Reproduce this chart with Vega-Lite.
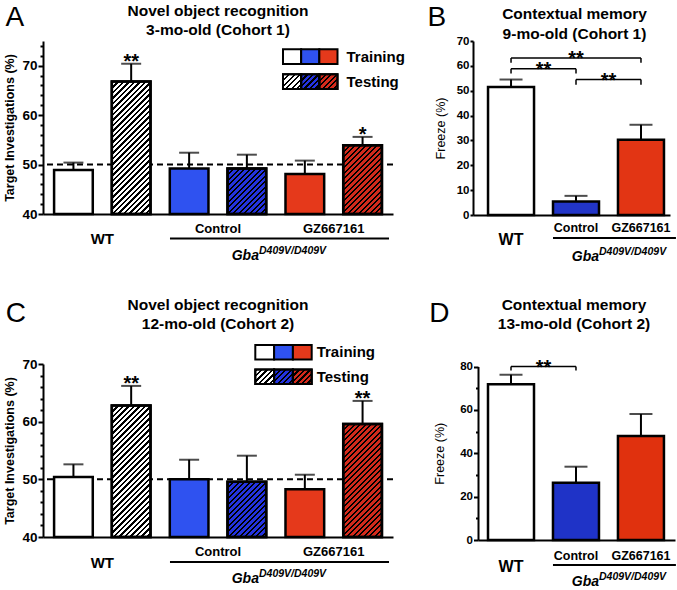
{
"$schema": "https://vega.github.io/schema/vega-lite/v6.json",
"padding": {"left": 3, "top": 3, "right": 0, "bottom": 0},
"params": [{"name": "hatch", "value": [
{"offset":0,"color":"#000"},{"offset":0.01,"color":"#000"},{"offset":0.01,"color":"#0000"},{"offset":0.025,"color":"#0000"},
{"offset":0.025,"color":"#000"},{"offset":0.035,"color":"#000"},{"offset":0.035,"color":"#0000"},{"offset":0.05,"color":"#0000"},
{"offset":0.05,"color":"#000"},{"offset":0.06,"color":"#000"},{"offset":0.06,"color":"#0000"},{"offset":0.075,"color":"#0000"},
{"offset":0.075,"color":"#000"},{"offset":0.085,"color":"#000"},{"offset":0.085,"color":"#0000"},{"offset":0.1,"color":"#0000"},
{"offset":0.1,"color":"#000"},{"offset":0.11,"color":"#000"},{"offset":0.11,"color":"#0000"},{"offset":0.125,"color":"#0000"},
{"offset":0.125,"color":"#000"},{"offset":0.135,"color":"#000"},{"offset":0.135,"color":"#0000"},{"offset":0.15,"color":"#0000"},
{"offset":0.15,"color":"#000"},{"offset":0.16,"color":"#000"},{"offset":0.16,"color":"#0000"},{"offset":0.175,"color":"#0000"},
{"offset":0.175,"color":"#000"},{"offset":0.185,"color":"#000"},{"offset":0.185,"color":"#0000"},{"offset":0.2,"color":"#0000"},
{"offset":0.2,"color":"#000"},{"offset":0.21,"color":"#000"},{"offset":0.21,"color":"#0000"},{"offset":0.225,"color":"#0000"},
{"offset":0.225,"color":"#000"},{"offset":0.235,"color":"#000"},{"offset":0.235,"color":"#0000"},{"offset":0.25,"color":"#0000"},
{"offset":0.25,"color":"#000"},{"offset":0.26,"color":"#000"},{"offset":0.26,"color":"#0000"},{"offset":0.275,"color":"#0000"},
{"offset":0.275,"color":"#000"},{"offset":0.285,"color":"#000"},{"offset":0.285,"color":"#0000"},{"offset":0.3,"color":"#0000"},
{"offset":0.3,"color":"#000"},{"offset":0.31,"color":"#000"},{"offset":0.31,"color":"#0000"},{"offset":0.325,"color":"#0000"},
{"offset":0.325,"color":"#000"},{"offset":0.335,"color":"#000"},{"offset":0.335,"color":"#0000"},{"offset":0.35,"color":"#0000"},
{"offset":0.35,"color":"#000"},{"offset":0.36,"color":"#000"},{"offset":0.36,"color":"#0000"},{"offset":0.375,"color":"#0000"},
{"offset":0.375,"color":"#000"},{"offset":0.385,"color":"#000"},{"offset":0.385,"color":"#0000"},{"offset":0.4,"color":"#0000"},
{"offset":0.4,"color":"#000"},{"offset":0.41,"color":"#000"},{"offset":0.41,"color":"#0000"},{"offset":0.425,"color":"#0000"},
{"offset":0.425,"color":"#000"},{"offset":0.435,"color":"#000"},{"offset":0.435,"color":"#0000"},{"offset":0.45,"color":"#0000"},
{"offset":0.45,"color":"#000"},{"offset":0.46,"color":"#000"},{"offset":0.46,"color":"#0000"},{"offset":0.475,"color":"#0000"},
{"offset":0.475,"color":"#000"},{"offset":0.485,"color":"#000"},{"offset":0.485,"color":"#0000"},{"offset":0.5,"color":"#0000"},
{"offset":0.5,"color":"#000"},{"offset":0.51,"color":"#000"},{"offset":0.51,"color":"#0000"},{"offset":0.525,"color":"#0000"},
{"offset":0.525,"color":"#000"},{"offset":0.535,"color":"#000"},{"offset":0.535,"color":"#0000"},{"offset":0.55,"color":"#0000"},
{"offset":0.55,"color":"#000"},{"offset":0.56,"color":"#000"},{"offset":0.56,"color":"#0000"},{"offset":0.575,"color":"#0000"},
{"offset":0.575,"color":"#000"},{"offset":0.585,"color":"#000"},{"offset":0.585,"color":"#0000"},{"offset":0.6,"color":"#0000"},
{"offset":0.6,"color":"#000"},{"offset":0.61,"color":"#000"},{"offset":0.61,"color":"#0000"},{"offset":0.625,"color":"#0000"},
{"offset":0.625,"color":"#000"},{"offset":0.635,"color":"#000"},{"offset":0.635,"color":"#0000"},{"offset":0.65,"color":"#0000"},
{"offset":0.65,"color":"#000"},{"offset":0.66,"color":"#000"},{"offset":0.66,"color":"#0000"},{"offset":0.675,"color":"#0000"},
{"offset":0.675,"color":"#000"},{"offset":0.685,"color":"#000"},{"offset":0.685,"color":"#0000"},{"offset":0.7,"color":"#0000"},
{"offset":0.7,"color":"#000"},{"offset":0.71,"color":"#000"},{"offset":0.71,"color":"#0000"},{"offset":0.725,"color":"#0000"},
{"offset":0.725,"color":"#000"},{"offset":0.735,"color":"#000"},{"offset":0.735,"color":"#0000"},{"offset":0.75,"color":"#0000"},
{"offset":0.75,"color":"#000"},{"offset":0.76,"color":"#000"},{"offset":0.76,"color":"#0000"},{"offset":0.775,"color":"#0000"},
{"offset":0.775,"color":"#000"},{"offset":0.785,"color":"#000"},{"offset":0.785,"color":"#0000"},{"offset":0.8,"color":"#0000"},
{"offset":0.8,"color":"#000"},{"offset":0.81,"color":"#000"},{"offset":0.81,"color":"#0000"},{"offset":0.825,"color":"#0000"},
{"offset":0.825,"color":"#000"},{"offset":0.835,"color":"#000"},{"offset":0.835,"color":"#0000"},{"offset":0.85,"color":"#0000"},
{"offset":0.85,"color":"#000"},{"offset":0.86,"color":"#000"},{"offset":0.86,"color":"#0000"},{"offset":0.875,"color":"#0000"},
{"offset":0.875,"color":"#000"},{"offset":0.885,"color":"#000"},{"offset":0.885,"color":"#0000"},{"offset":0.9,"color":"#0000"},
{"offset":0.9,"color":"#000"},{"offset":0.91,"color":"#000"},{"offset":0.91,"color":"#0000"},{"offset":0.925,"color":"#0000"},
{"offset":0.925,"color":"#000"},{"offset":0.935,"color":"#000"},{"offset":0.935,"color":"#0000"},{"offset":0.95,"color":"#0000"},
{"offset":0.95,"color":"#000"},{"offset":0.96,"color":"#000"},{"offset":0.96,"color":"#0000"},{"offset":0.975,"color":"#0000"},
{"offset":0.975,"color":"#000"},{"offset":0.985,"color":"#000"},{"offset":0.985,"color":"#0000"},{"offset":1,"color":"#0000"}
]}],
"config": {
  "font": "Liberation Sans",
  "view": {"stroke": null},
  "axis": {"domainColor": "#000", "domainWidth": 2, "tickColor": "#000", "tickWidth": 2, "labelColor": "#000", "titleColor": "#000", "labelFontWeight": "bold", "titleFontWeight": "bold", "grid": false},
  "title": {"fontSize": 15.5, "fontWeight": "bold", "color": "#000", "anchor": "middle", "frame": "group", "baseline": "bottom", "lineHeight": 19.5}
},
"columns": 2,
"bounds": "flush",
"spacing": {"row": 149, "column": 80},
"resolve": {"scale": {"fill": "independent"}},
"concat": [
{
  "width": 350, "height": 173,
  "title": {"text": ["Novel object recognition", "3-mo-old (Cohort 1)"], "offset": -35.8},
  "data": {"values": [
    {"group": "WT", "phase": "Training", "m": 48.9, "hi": 50.4},
    {"group": "WT", "phase": "Testing", "m": 66.8, "hi": 70.4, "sig": "**"},
    {"group": "Control", "phase": "Training", "m": 49.2, "hi": 52.4},
    {"group": "Control", "phase": "Testing", "m": 49.2, "hi": 52.0},
    {"group": "GZ667161", "phase": "Training", "m": 48.1, "hi": 50.8},
    {"group": "GZ667161", "phase": "Testing", "m": 53.9, "hi": 55.6, "sig": "*"}
  ]},
  "resolve": {"scale": {"x": "independent", "y": "independent", "xOffset": "independent"}},
  "layer": [
    {"data": {"values": [{}]}, "mark": {"type": "rule", "strokeDash": [6, 4], "strokeWidth": 2, "color": "#000"},
     "encoding": {"y": {"datum": 50, "type": "quantitative", "scale": {"domain": [40, 75], "nice": false, "zero": false},
                        "axis": {"orient": "left", "values": [42,44,46,48,52,54,56,58,62,64,66,68,72,74], "labels": false, "domain": false, "tickSize": 3, "title": null}}}},
    {"mark": {"type": "bar", "stroke": "#000", "strokeWidth": 2.5},
     "encoding": {
       "x": {"field": "group", "type": "nominal", "scale": {"type": "band", "domain": ["WT", "Control", "GZ667161"], "paddingInner": 0, "paddingOuter": 0.0125},
             "axis": {"orient": "bottom", "title": null, "ticks": false, "tickSize": 0, "labelAngle": 0, "labelOverlap": false,
                      "labelFontSize": {"condition": {"test": "datum.value === 'WT'", "value": 15}, "value": 13},
                      "labelPadding": {"condition": {"test": "datum.value === 'WT'", "value": 17.5}, "value": 8.4}}},
       "xOffset": {"field": "phase", "type": "nominal", "scale": {"type": "band", "domain": ["Training", "Testing"], "paddingInner": 0.33, "paddingOuter": 0.167}},
       "y": {"field": "m", "type": "quantitative", "scale": {"domain": [40, 75], "nice": false, "zero": false},
             "axis": {"orient": "left", "values": [40, 50, 60, 70], "title": "Target Investigations (%)", "titleFontSize": 12.5, "titlePadding": 5,
                      "labelFontSize": 13.5, "labelOverlap": false, "labelPadding": 1, "tickSize": 5}},
       "y2": {"datum": 40},
       "fill": {"field": "group", "type": "nominal", "legend": null,
                "scale": {"domain": ["WT", "Control", "GZ667161"], "range": ["#ffffff", "#2f52f0", "#e5391b"]},
                "condition": [{"test": "datum.phase === 'Testing' && datum.group === 'Control'", "value": "#2433e0"},
                              {"test": "datum.phase === 'Testing' && datum.group === 'GZ667161'", "value": "#d42a1c"}]}
     }},
    {"transform": [{"filter": "datum.phase === 'Testing'"}],
     "mark": {"type": "bar", "stroke": "#000", "strokeWidth": 2.5,
              "fill": {"expr": "{gradient: 'linear', x1: 0, y1: 0, x2: 8510 / (1496 + pow(4.943 * (datum.m - 40), 2)), y2: 1087.5 * (datum.m - 40) / (1496 + pow(4.943 * (datum.m - 40), 2)), stops: hatch}"}},
     "encoding": {
       "x": {"field": "group", "type": "nominal", "scale": {"type": "band", "domain": ["WT", "Control", "GZ667161"], "paddingInner": 0, "paddingOuter": 0.0125}, "axis": null},
       "xOffset": {"field": "phase", "type": "nominal", "scale": {"type": "band", "domain": ["Training", "Testing"], "paddingInner": 0.33, "paddingOuter": 0.167}},
       "y": {"field": "m", "type": "quantitative", "scale": {"domain": [40, 75], "nice": false, "zero": false}, "axis": null},
       "y2": {"datum": 40}}},
    {"mark": {"type": "rule", "strokeWidth": 2, "color": "#000"},
     "encoding": {
       "x": {"field": "group", "type": "nominal", "scale": {"type": "band", "domain": ["WT", "Control", "GZ667161"], "paddingInner": 0, "paddingOuter": 0.0125}, "axis": null},
       "xOffset": {"field": "phase", "type": "nominal", "scale": {"type": "band", "domain": ["Training", "Testing"], "paddingInner": 0.33, "paddingOuter": 0.167}},
       "y": {"field": "m", "type": "quantitative", "scale": {"domain": [40, 75], "nice": false, "zero": false}, "axis": null},
       "y2": {"field": "hi"}}},
    {"mark": {"type": "tick", "thickness": 2, "size": 20, "color": "#000"},
     "encoding": {
       "x": {"field": "group", "type": "nominal", "scale": {"type": "band", "domain": ["WT", "Control", "GZ667161"], "paddingInner": 0, "paddingOuter": 0.0125},
             "axis": {"orient": "top", "domain": false, "ticks": false, "labels": false, "grid": false, "title": "A", "titleFontSize": 28, "titleFontWeight": "normal", "titleAngle": 0, "titleAlign": "left", "titleBaseline": "alphabetic", "titleX": -38, "titleY": -16}},
       "xOffset": {"field": "phase", "type": "nominal", "scale": {"type": "band", "domain": ["Training", "Testing"], "paddingInner": 0.33, "paddingOuter": 0.167}},
       "y": {"field": "hi", "type": "quantitative", "scale": {"domain": [40, 75], "nice": false, "zero": false}, "axis": null}}},
    {"transform": [{"filter": "isValid(datum.sig)"}],
     "mark": {"type": "text", "fontSize": 20, "fontWeight": "bold", "baseline": "alphabetic", "dy": 4, "color": "#000"},
     "encoding": {
       "x": {"field": "group", "type": "nominal", "scale": {"type": "band", "domain": ["WT", "Control", "GZ667161"], "paddingInner": 0, "paddingOuter": 0.0125}, "axis": null},
       "xOffset": {"field": "phase", "type": "nominal", "scale": {"type": "band", "domain": ["Training", "Testing"], "paddingInner": 0.33, "paddingOuter": 0.167}},
       "y": {"field": "hi", "type": "quantitative", "scale": {"domain": [40, 75], "nice": false, "zero": false}, "axis": null},
       "text": {"field": "sig"}}},
    {"data": {"values": [{}]}, "mark": {"type": "rule", "strokeWidth": 2, "color": "#000"},
     "encoding": {
       "x": {"datum": "Control", "type": "nominal", "bandPosition": 0.085, "scale": {"type": "band", "domain": ["WT", "Control", "GZ667161"], "paddingInner": 0, "paddingOuter": 0.0125}, "axis": null},
       "x2": {"datum": "GZ667161", "bandPosition": 0.978},
       "y": {"datum": 35.06, "type": "quantitative", "scale": {"domain": [40, 75], "nice": false, "zero": false}, "axis": null}}},
    {"data": {"values": [{}]}, "mark": {"type": "text", "text": "Gba", "align": "right", "baseline": "alphabetic", "fontSize": 14, "fontStyle": "italic", "fontWeight": "bold", "color": "#000"},
     "encoding": {
       "x": {"datum": "Control", "type": "nominal", "bandPosition": 0.854, "scale": {"type": "band", "domain": ["WT", "Control", "GZ667161"], "paddingInner": 0, "paddingOuter": 0.0125}, "axis": null},
       "y": {"datum": 30.72, "type": "quantitative", "scale": {"domain": [40, 75], "nice": false, "zero": false}, "axis": null}}},
    {"data": {"values": [{}]}, "mark": {"type": "text", "text": "D409V/D409V", "align": "left", "baseline": "alphabetic", "dy": -6, "fontSize": 10.5, "fontStyle": "italic", "fontWeight": "bold", "color": "#000"},
     "encoding": {
       "x": {"datum": "Control", "type": "nominal", "bandPosition": 0.854, "scale": {"type": "band", "domain": ["WT", "Control", "GZ667161"], "paddingInner": 0, "paddingOuter": 0.0125}, "axis": null},
       "y": {"datum": 30.72, "type": "quantitative", "scale": {"domain": [40, 75], "nice": false, "zero": false}, "axis": null}}},
    {"mark": {"type": "rect", "stroke": "#000", "strokeWidth": 2},
     "encoding": {
       "x": {"field": "group", "type": "nominal", "scale": {"type": "band", "domain": ["WT", "Control", "GZ667161"], "range": [240, 294.5], "paddingInner": 0, "paddingOuter": 0}, "axis": null},
       "y": {"field": "phase", "type": "nominal", "scale": {"type": "band", "domain": ["Training", "Testing"], "range": [8.3, 48], "paddingInner": 0.41, "paddingOuter": 0}, "axis": null},
       "fill": {"field": "group", "type": "nominal", "legend": null,
                "scale": {"domain": ["WT", "Control", "GZ667161"], "range": ["#ffffff", "#2f52f0", "#e5391b"]},
                "condition": [{"test": "datum.phase === 'Testing' && datum.group === 'Control'", "value": "#2433e0"},
                              {"test": "datum.phase === 'Testing' && datum.group === 'GZ667161'", "value": "#d42a1c"}]}
     }},
    {"transform": [{"filter": "datum.phase === 'Testing'"}],
     "mark": {"type": "rect", "stroke": "#000", "strokeWidth": 2, "fill": {"expr": "{gradient: 'linear', x1: 0, y1: 0, x2: 7.31, y2: 5.92, stops: hatch}"}},
     "encoding": {
       "x": {"field": "group", "type": "nominal", "scale": {"type": "band", "domain": ["WT", "Control", "GZ667161"], "range": [240, 294.5], "paddingInner": 0, "paddingOuter": 0}, "axis": null},
       "y": {"field": "phase", "type": "nominal", "scale": {"type": "band", "domain": ["Training", "Testing"], "range": [8.3, 48], "paddingInner": 0.41, "paddingOuter": 0}, "axis": null}}},
    {"transform": [{"filter": "datum.group === 'GZ667161'"}],
     "mark": {"type": "text", "align": "left", "baseline": "middle", "dx": 9, "fontSize": 15, "fontWeight": "bold", "color": "#000"},
     "encoding": {
       "x": {"field": "group", "type": "nominal", "bandPosition": 1, "scale": {"type": "band", "domain": ["WT", "Control", "GZ667161"], "range": [240, 294.5], "paddingInner": 0, "paddingOuter": 0}, "axis": null},
       "y": {"field": "phase", "type": "nominal", "scale": {"type": "band", "domain": ["Training", "Testing"], "range": [8.3, 48], "paddingInner": 0.41, "paddingOuter": 0}, "axis": null},
       "text": {"field": "phase"}}}
  ]
},
{
  "width": 197, "height": 174,
  "title": {"text": ["Contextual memory", "9-mo-old (Cohort 1)"], "offset": -39.1, "dx": 3},
  "data": {"values": [
    {"group": "WT", "m": 51.5, "hi": 54.5},
    {"group": "Control", "m": 5.4, "hi": 7.7},
    {"group": "GZ667161", "m": 30.3, "hi": 36.3}
  ]},
  "resolve": {"axis": {"x": "independent", "y": "independent"}},
  "layer": [
    {"mark": {"type": "bar", "stroke": "#000", "strokeWidth": 2.5},
     "encoding": {
       "x": {"field": "group", "type": "nominal", "scale": {"type": "band", "domain": ["WT", "Control", "GZ667161"], "paddingInner": 0.292, "paddingOuter": 0.162, "align": 0.714},
             "axis": {"orient": "bottom", "title": null, "ticks": false, "tickSize": 0, "labelAngle": 0, "labelOverlap": false,
                      "labelFontSize": {"condition": {"test": "datum.value === 'WT'", "value": 16}, "value": 12.5},
                      "labelPadding": {"condition": {"test": "datum.value === 'WT'", "value": 16}, "value": 6.6}}},
       "y": {"field": "m", "type": "quantitative", "scale": {"domain": [0, 70], "nice": false},
             "axis": {"orient": "left", "values": [0,10,20,30,40,50,60,70], "labelOverlap": false, "title": "Freeze (%)", "titleFontWeight": "normal", "titleFontSize": 12.5, "titlePadding": 9, "labelFontSize": 11.5, "tickSize": 3, "labelPadding": 1}},
       "fill": {"field": "group", "type": "nominal", "legend": null, "scale": {"domain": ["WT", "Control", "GZ667161"], "range": ["#ffffff", "#2235c8", "#e23514"]}}
     }},
    {"mark": {"type": "rule", "strokeWidth": 2, "color": "#000"},
     "encoding": {"x": {"field": "group", "type": "nominal", "axis": null}, "y": {"field": "m", "type": "quantitative", "axis": null}, "y2": {"field": "hi"}}},
    {"mark": {"type": "tick", "thickness": 2, "size": 23, "color": "#000"},
     "encoding": {"x": {"field": "group", "type": "nominal",
                        "axis": {"orient": "top", "domain": false, "ticks": false, "labels": false, "grid": false, "title": "B", "titleFontSize": 28, "titleFontWeight": "normal", "titleAngle": 0, "titleAlign": "left", "titleBaseline": "alphabetic", "titleX": -46, "titleY": -16}},
                  "y": {"field": "hi", "type": "quantitative", "axis": null}}},
    {"data": {"values": [
       {"from": "WT", "to": "GZ667161", "y": 63.2, "yt": 61.3},
       {"from": "WT", "to": "Control", "y": 58.8, "yt": 56.9},
       {"from": "Control", "to": "GZ667161", "y": 54.5, "yt": 52.4}]},
     "mark": {"type": "rule", "strokeWidth": 1.5, "color": "#000"},
     "encoding": {"x": {"field": "from", "type": "nominal", "axis": null}, "x2": {"field": "to"}, "y": {"field": "y", "type": "quantitative", "axis": null}}},
    {"data": {"values": [
       {"from": "WT", "to": "GZ667161", "y": 63.2, "yt": 61.3},
       {"from": "WT", "to": "Control", "y": 58.8, "yt": 56.9},
       {"from": "Control", "to": "GZ667161", "y": 54.5, "yt": 52.4}]},
     "mark": {"type": "rule", "strokeWidth": 1.5, "color": "#000"},
     "encoding": {"x": {"field": "from", "type": "nominal", "axis": null}, "y": {"field": "y", "type": "quantitative", "axis": null}, "y2": {"field": "yt"}}},
    {"data": {"values": [
       {"from": "WT", "to": "GZ667161", "y": 63.2, "yt": 61.3},
       {"from": "WT", "to": "Control", "y": 58.8, "yt": 56.9},
       {"from": "Control", "to": "GZ667161", "y": 54.5, "yt": 52.4}]},
     "mark": {"type": "rule", "strokeWidth": 1.5, "color": "#000"},
     "encoding": {"x": {"field": "to", "type": "nominal", "axis": null}, "y": {"field": "y", "type": "quantitative", "axis": null}, "y2": {"field": "yt"}}},
    {"data": {"values": [{}]}, "mark": {"type": "text", "text": "**", "fontSize": 20, "fontWeight": "bold", "baseline": "alphabetic", "dy": 7, "color": "#000"},
     "encoding": {"x": {"datum": "Control", "type": "nominal", "bandPosition": 0.5, "axis": null}, "y": {"datum": 63.2, "type": "quantitative", "axis": null}}},
    {"data": {"values": [{}]}, "mark": {"type": "text", "text": "**", "fontSize": 20, "fontWeight": "bold", "baseline": "alphabetic", "dy": 7, "color": "#000"},
     "encoding": {"x": {"datum": "WT", "type": "nominal", "bandPosition": 1.207, "axis": null}, "y": {"datum": 58.8, "type": "quantitative", "axis": null}}},
    {"data": {"values": [{}]}, "mark": {"type": "text", "text": "**", "fontSize": 20, "fontWeight": "bold", "baseline": "alphabetic", "dy": 7, "color": "#000"},
     "encoding": {"x": {"datum": "Control", "type": "nominal", "bandPosition": 1.207, "axis": null}, "y": {"datum": 54.5, "type": "quantitative", "axis": null}}},
    {"data": {"values": [{}]}, "mark": {"type": "rule", "strokeWidth": 2, "color": "#000"},
     "encoding": {"x": {"datum": "Control", "type": "nominal", "bandPosition": 0, "axis": null}, "x2": {"datum": "GZ667161", "bandPosition": 1.26}, "y": {"datum": -9.28, "type": "quantitative", "axis": null}}},
    {"data": {"values": [{}]}, "mark": {"type": "text", "text": "Gba", "align": "right", "baseline": "alphabetic", "fontSize": 14, "fontStyle": "italic", "fontWeight": "bold", "color": "#000"},
     "encoding": {"x": {"datum": "Control", "type": "nominal", "bandPosition": 1, "axis": null}, "y": {"datum": -18.56, "type": "quantitative", "axis": null}}},
    {"data": {"values": [{}]}, "mark": {"type": "text", "text": "D409V/D409V", "align": "left", "baseline": "alphabetic", "dy": -6, "fontSize": 10.5, "fontStyle": "italic", "fontWeight": "bold", "color": "#000"},
     "encoding": {"x": {"datum": "Control", "type": "nominal", "bandPosition": 1, "axis": null}, "y": {"datum": -18.56, "type": "quantitative", "axis": null}}}
  ]
},
{
  "width": 350, "height": 173,
  "title": {"text": ["Novel object recognition", "12-mo-old (Cohort 2)"], "offset": -33},
  "data": {"values": [
    {"group": "WT", "phase": "Training", "m": 50.4, "hi": 52.6},
    {"group": "WT", "phase": "Testing", "m": 62.8, "hi": 66.2, "sig": "**"},
    {"group": "Control", "phase": "Training", "m": 50.0, "hi": 53.4},
    {"group": "Control", "phase": "Testing", "m": 49.6, "hi": 54.1},
    {"group": "GZ667161", "phase": "Training", "m": 48.3, "hi": 50.8},
    {"group": "GZ667161", "phase": "Testing", "m": 59.6, "hi": 63.6, "sig": "**"}
  ]},
  "resolve": {"scale": {"x": "independent", "y": "independent", "xOffset": "independent"}},
  "layer": [
    {"data": {"values": [{}]}, "mark": {"type": "rule", "strokeDash": [6, 4], "strokeWidth": 2, "color": "#000"},
     "encoding": {"y": {"datum": 50, "type": "quantitative", "scale": {"domain": [40, 70], "nice": false, "zero": false},
                        "axis": {"orient": "left", "values": [42,44,46,48,52,54,56,58,62,64,66,68], "labels": false, "domain": false, "tickSize": 3, "title": null}}}},
    {"mark": {"type": "bar", "stroke": "#000", "strokeWidth": 2.5},
     "encoding": {
       "x": {"field": "group", "type": "nominal", "scale": {"type": "band", "domain": ["WT", "Control", "GZ667161"], "paddingInner": 0, "paddingOuter": 0.0125},
             "axis": {"orient": "bottom", "title": null, "ticks": false, "tickSize": 0, "labelAngle": 0, "labelOverlap": false,
                      "labelFontSize": {"condition": {"test": "datum.value === 'WT'", "value": 15}, "value": 13},
                      "labelPadding": {"condition": {"test": "datum.value === 'WT'", "value": 18.5}, "value": 8.4}}},
       "xOffset": {"field": "phase", "type": "nominal", "scale": {"type": "band", "domain": ["Training", "Testing"], "paddingInner": 0.33, "paddingOuter": 0.167}},
       "y": {"field": "m", "type": "quantitative", "scale": {"domain": [40, 70], "nice": false, "zero": false},
             "axis": {"orient": "left", "values": [40, 50, 60, 70], "title": "Target Investigations (%)", "titleFontSize": 12.5, "titlePadding": 5,
                      "labelFontSize": 13.5, "labelOverlap": false, "labelPadding": 1, "tickSize": 5}},
       "y2": {"datum": 40},
       "fill": {"field": "group", "type": "nominal", "legend": null,
                "scale": {"domain": ["WT", "Control", "GZ667161"], "range": ["#ffffff", "#2f52f0", "#e5391b"]},
                "condition": [{"test": "datum.phase === 'Testing' && datum.group === 'Control'", "value": "#2433e0"},
                              {"test": "datum.phase === 'Testing' && datum.group === 'GZ667161'", "value": "#d42a1c"}]}
     }},
    {"transform": [{"filter": "datum.phase === 'Testing'"}],
     "mark": {"type": "bar", "stroke": "#000", "strokeWidth": 2.5,
              "fill": {"expr": "{gradient: 'linear', x1: 0, y1: 0, x2: 8510 / (1496 + pow(5.767 * (datum.m - 40), 2)), y2: 1268.7 * (datum.m - 40) / (1496 + pow(5.767 * (datum.m - 40), 2)), stops: hatch}"}},
     "encoding": {
       "x": {"field": "group", "type": "nominal", "scale": {"type": "band", "domain": ["WT", "Control", "GZ667161"], "paddingInner": 0, "paddingOuter": 0.0125}, "axis": null},
       "xOffset": {"field": "phase", "type": "nominal", "scale": {"type": "band", "domain": ["Training", "Testing"], "paddingInner": 0.33, "paddingOuter": 0.167}},
       "y": {"field": "m", "type": "quantitative", "scale": {"domain": [40, 70], "nice": false, "zero": false}, "axis": null},
       "y2": {"datum": 40}}},
    {"mark": {"type": "rule", "strokeWidth": 2, "color": "#000"},
     "encoding": {
       "x": {"field": "group", "type": "nominal", "scale": {"type": "band", "domain": ["WT", "Control", "GZ667161"], "paddingInner": 0, "paddingOuter": 0.0125}, "axis": null},
       "xOffset": {"field": "phase", "type": "nominal", "scale": {"type": "band", "domain": ["Training", "Testing"], "paddingInner": 0.33, "paddingOuter": 0.167}},
       "y": {"field": "m", "type": "quantitative", "scale": {"domain": [40, 70], "nice": false, "zero": false}, "axis": null},
       "y2": {"field": "hi"}}},
    {"mark": {"type": "tick", "thickness": 2, "size": 20, "color": "#000"},
     "encoding": {
       "x": {"field": "group", "type": "nominal", "scale": {"type": "band", "domain": ["WT", "Control", "GZ667161"], "paddingInner": 0, "paddingOuter": 0.0125},
             "axis": {"orient": "top", "domain": false, "ticks": false, "labels": false, "grid": false, "title": "C", "titleFontSize": 28, "titleFontWeight": "normal", "titleAngle": 0, "titleAlign": "left", "titleBaseline": "alphabetic", "titleX": -37.7, "titleY": -42.3}},
       "xOffset": {"field": "phase", "type": "nominal", "scale": {"type": "band", "domain": ["Training", "Testing"], "paddingInner": 0.33, "paddingOuter": 0.167}},
       "y": {"field": "hi", "type": "quantitative", "scale": {"domain": [40, 70], "nice": false, "zero": false}, "axis": null}}},
    {"transform": [{"filter": "isValid(datum.sig)"}],
     "mark": {"type": "text", "fontSize": 20, "fontWeight": "bold", "baseline": "alphabetic", "dy": 4, "color": "#000"},
     "encoding": {
       "x": {"field": "group", "type": "nominal", "scale": {"type": "band", "domain": ["WT", "Control", "GZ667161"], "paddingInner": 0, "paddingOuter": 0.0125}, "axis": null},
       "xOffset": {"field": "phase", "type": "nominal", "scale": {"type": "band", "domain": ["Training", "Testing"], "paddingInner": 0.33, "paddingOuter": 0.167}},
       "y": {"field": "hi", "type": "quantitative", "scale": {"domain": [40, 70], "nice": false, "zero": false}, "axis": null},
       "text": {"field": "sig"}}},
    {"data": {"values": [{}]}, "mark": {"type": "rule", "strokeWidth": 2, "color": "#000"},
     "encoding": {
       "x": {"datum": "Control", "type": "nominal", "bandPosition": 0.085, "scale": {"type": "band", "domain": ["WT", "Control", "GZ667161"], "paddingInner": 0, "paddingOuter": 0.0125}, "axis": null},
       "x2": {"datum": "GZ667161", "bandPosition": 0.978},
       "y": {"datum": 35.66, "type": "quantitative", "scale": {"domain": [40, 70], "nice": false, "zero": false}, "axis": null}}},
    {"data": {"values": [{}]}, "mark": {"type": "text", "text": "Gba", "align": "right", "baseline": "alphabetic", "fontSize": 14, "fontStyle": "italic", "fontWeight": "bold", "color": "#000"},
     "encoding": {
       "x": {"datum": "Control", "type": "nominal", "bandPosition": 0.854, "scale": {"type": "band", "domain": ["WT", "Control", "GZ667161"], "paddingInner": 0, "paddingOuter": 0.0125}, "axis": null},
       "y": {"datum": 32.02, "type": "quantitative", "scale": {"domain": [40, 70], "nice": false, "zero": false}, "axis": null}}},
    {"data": {"values": [{}]}, "mark": {"type": "text", "text": "D409V/D409V", "align": "left", "baseline": "alphabetic", "dy": -6, "fontSize": 10.5, "fontStyle": "italic", "fontWeight": "bold", "color": "#000"},
     "encoding": {
       "x": {"datum": "Control", "type": "nominal", "bandPosition": 0.854, "scale": {"type": "band", "domain": ["WT", "Control", "GZ667161"], "paddingInner": 0, "paddingOuter": 0.0125}, "axis": null},
       "y": {"datum": 32.02, "type": "quantitative", "scale": {"domain": [40, 70], "nice": false, "zero": false}, "axis": null}}},
    {"mark": {"type": "rect", "stroke": "#000", "strokeWidth": 2},
     "encoding": {
       "x": {"field": "group", "type": "nominal", "scale": {"type": "band", "domain": ["WT", "Control", "GZ667161"], "range": [212.3, 268.7], "paddingInner": 0, "paddingOuter": 0}, "axis": null},
       "y": {"field": "phase", "type": "nominal", "scale": {"type": "band", "domain": ["Training", "Testing"], "range": [-19, 20], "paddingInner": 0.41, "paddingOuter": 0}, "axis": null},
       "fill": {"field": "group", "type": "nominal", "legend": null,
                "scale": {"domain": ["WT", "Control", "GZ667161"], "range": ["#ffffff", "#2f52f0", "#e5391b"]},
                "condition": [{"test": "datum.phase === 'Testing' && datum.group === 'Control'", "value": "#2433e0"},
                              {"test": "datum.phase === 'Testing' && datum.group === 'GZ667161'", "value": "#d42a1c"}]}
     }},
    {"transform": [{"filter": "datum.phase === 'Testing'"}],
     "mark": {"type": "rect", "stroke": "#000", "strokeWidth": 2, "fill": {"expr": "{gradient: 'linear', x1: 0, y1: 0, x2: 7.35, y2: 5.66, stops: hatch}"}},
     "encoding": {
       "x": {"field": "group", "type": "nominal", "scale": {"type": "band", "domain": ["WT", "Control", "GZ667161"], "range": [212.3, 268.7], "paddingInner": 0, "paddingOuter": 0}, "axis": null},
       "y": {"field": "phase", "type": "nominal", "scale": {"type": "band", "domain": ["Training", "Testing"], "range": [-19, 20], "paddingInner": 0.41, "paddingOuter": 0}, "axis": null}}},
    {"transform": [{"filter": "datum.group === 'GZ667161'"}],
     "mark": {"type": "text", "align": "left", "baseline": "middle", "dx": 5, "fontSize": 15, "fontWeight": "bold", "color": "#000"},
     "encoding": {
       "x": {"field": "group", "type": "nominal", "bandPosition": 1, "scale": {"type": "band", "domain": ["WT", "Control", "GZ667161"], "range": [212.3, 268.7], "paddingInner": 0, "paddingOuter": 0}, "axis": null},
       "y": {"field": "phase", "type": "nominal", "scale": {"type": "band", "domain": ["Training", "Testing"], "range": [-19, 20], "paddingInner": 0.41, "paddingOuter": 0}, "axis": null},
       "text": {"field": "phase"}}}
  ]
},
{
  "width": 202, "height": 176,
  "title": {"text": ["Contextual memory", "13-mo-old (Cohort 2)"], "offset": -33},
  "data": {"values": [
    {"group": "WT", "m": 71.8, "hi": 76.2},
    {"group": "Control", "m": 26.4, "hi": 33.8},
    {"group": "GZ667161", "m": 47.9, "hi": 58.1}
  ]},
  "resolve": {"axis": {"x": "independent", "y": "independent"}},
  "layer": [
    {"mark": {"type": "bar", "stroke": "#000", "strokeWidth": 2.5},
     "encoding": {
       "x": {"field": "group", "type": "nominal", "scale": {"type": "band", "domain": ["WT", "Control", "GZ667161"], "range": [5, 202], "paddingInner": 0.292, "paddingOuter": 0.162, "align": 0.475},
             "axis": {"orient": "bottom", "title": null, "ticks": false, "tickSize": 0, "labelAngle": 0, "labelOverlap": false,
                      "labelFontSize": {"condition": {"test": "datum.value === 'WT'", "value": 16}, "value": 12.5},
                      "labelPadding": {"condition": {"test": "datum.value === 'WT'", "value": 18}, "value": 9.6}}},
       "y": {"field": "m", "type": "quantitative", "scale": {"domain": [0, 80], "range": [176, 2.5], "nice": false},
             "axis": {"orient": "left", "values": [0, 20, 40, 60, 80], "offset": -5, "title": "Freeze (%)", "titleFontWeight": "normal", "titleFontSize": 12.5, "titlePadding": 13, "labelFontSize": 11.5, "labelPadding": 1, "labelOverlap": false, "tickSize": 4.5}},
       "fill": {"field": "group", "type": "nominal", "legend": null, "scale": {"domain": ["WT", "Control", "GZ667161"], "range": ["#ffffff", "#1f33c7", "#e0310e"]}}
     }},
    {"mark": {"type": "rule", "strokeWidth": 2, "color": "#000"},
     "encoding": {"x": {"field": "group", "type": "nominal", "axis": null},
                  "y": {"field": "m", "type": "quantitative", "axis": {"orient": "left", "values": [10, 30, 50, 70], "offset": -5, "labels": false, "domain": false, "tickSize": 2.5, "title": null}},
                  "y2": {"field": "hi"}}},
    {"mark": {"type": "tick", "thickness": 2, "size": 23, "color": "#000"},
     "encoding": {"x": {"field": "group", "type": "nominal",
                        "axis": {"orient": "top", "domain": false, "ticks": false, "labels": false, "grid": false, "title": "D", "titleFontSize": 28, "titleFontWeight": "normal", "titleAngle": 0, "titleAlign": "left", "titleBaseline": "alphabetic", "titleX": -44.3, "titleY": -42.3}},
                  "y": {"field": "hi", "type": "quantitative", "axis": null}}},
    {"data": {"values": [{"from": "WT", "to": "Control", "y": 80, "yt": 78.2}]},
     "mark": {"type": "rule", "strokeWidth": 1.5, "color": "#000"},
     "encoding": {"x": {"field": "from", "type": "nominal", "axis": null}, "x2": {"field": "to"}, "y": {"field": "y", "type": "quantitative", "axis": null}}},
    {"data": {"values": [{"from": "WT", "to": "Control", "y": 80, "yt": 78.2}]},
     "mark": {"type": "rule", "strokeWidth": 1.5, "color": "#000"},
     "encoding": {"x": {"field": "from", "type": "nominal", "axis": null}, "y": {"field": "y", "type": "quantitative", "axis": null}, "y2": {"field": "yt"}}},
    {"data": {"values": [{"from": "WT", "to": "Control", "y": 80, "yt": 78.2}]},
     "mark": {"type": "rule", "strokeWidth": 1.5, "color": "#000"},
     "encoding": {"x": {"field": "to", "type": "nominal", "axis": null}, "y": {"field": "y", "type": "quantitative", "axis": null}, "y2": {"field": "yt"}}},
    {"data": {"values": [{}]}, "mark": {"type": "text", "text": "**", "fontSize": 20, "fontWeight": "bold", "baseline": "alphabetic", "dy": 7, "color": "#000"},
     "encoding": {"x": {"datum": "WT", "type": "nominal", "bandPosition": 1.207, "axis": null}, "y": {"datum": 80, "type": "quantitative", "axis": null}}},
    {"data": {"values": [{}]}, "mark": {"type": "rule", "strokeWidth": 2, "color": "#000"},
     "encoding": {"x": {"datum": "Control", "type": "nominal", "bandPosition": 0, "axis": null}, "x2": {"datum": "GZ667161", "bandPosition": 1.26}, "y": {"datum": -11.53, "type": "quantitative", "axis": null}}},
    {"data": {"values": [{}]}, "mark": {"type": "text", "text": "Gba", "align": "right", "baseline": "alphabetic", "fontSize": 14, "fontStyle": "italic", "fontWeight": "bold", "color": "#000"},
     "encoding": {"x": {"datum": "Control", "type": "nominal", "bandPosition": 1, "axis": null}, "y": {"datum": -21.2, "type": "quantitative", "axis": null}}},
    {"data": {"values": [{}]}, "mark": {"type": "text", "text": "D409V/D409V", "align": "left", "baseline": "alphabetic", "dy": -6, "fontSize": 10.5, "fontStyle": "italic", "fontWeight": "bold", "color": "#000"},
     "encoding": {"x": {"datum": "Control", "type": "nominal", "bandPosition": 1, "axis": null}, "y": {"datum": -21.2, "type": "quantitative", "axis": null}}}
  ]
}
]
}
